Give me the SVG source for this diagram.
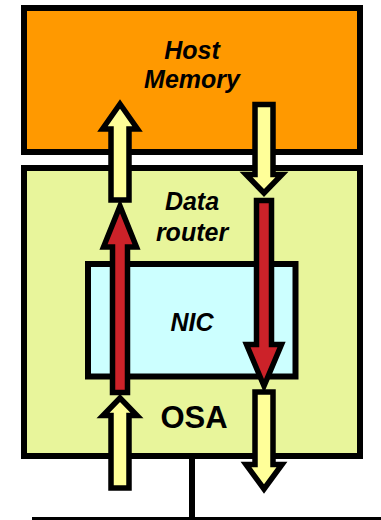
<svg xmlns="http://www.w3.org/2000/svg" width="381" height="520" viewBox="0 0 381 520">
<style>
.box{stroke:#000;stroke-width:6}
.lbl{font-family:"Liberation Sans",Arial,sans-serif;font-weight:bold;font-style:italic;font-size:25px;fill:#000;text-anchor:middle}
.osa{font-family:"Liberation Sans",Arial,sans-serif;font-weight:bold;font-size:31px;fill:#000;text-anchor:middle}
.ya{fill:#ffff99;stroke:#000;stroke-width:5.5;stroke-linejoin:miter;stroke-miterlimit:10}
.ra{fill:#cc2229;stroke:#000;stroke-width:5.5;stroke-linejoin:miter;stroke-miterlimit:10}
.wire{stroke:#000;stroke-width:6;fill:none}
</style>
<rect width="381" height="520" fill="#fff"/>
<g id="host-memory">
<rect class="box" x="24" y="8" width="336" height="144" fill="#ff9900"/>
<text class="lbl" x="192" y="59">Host</text>
<text class="lbl" x="192" y="88">Memory</text>
</g>
<g id="osa">
<rect class="box" x="24" y="168" width="336" height="288" fill="#e8f59b"/>
<text class="lbl" x="192" y="210">Data</text>
<text class="lbl" x="192" y="241">router</text>
<text class="osa" x="194" y="428">OSA</text>
</g>
<g id="nic">
<rect class="box" x="88" y="264" width="207.5" height="112.5" fill="#ccffff"/>
<text class="lbl" x="192" y="331">NIC</text>
</g>
<g id="connectors">
<line class="wire" x1="192" y1="456" x2="192" y2="519"/>
<line class="wire" x1="32" y1="520" x2="381" y2="520"/>
<polygon class="ya" points="120,104 137.5,129 129,129 129,200 111,200 111,129 102.5,129"/>
<polygon class="ra" points="120,206 136.5,247 127.5,247 127.5,392.5 112.5,392.5 112.5,247 103.5,247"/>
<polygon class="ya" points="120,398 137,415.5 129,415.5 129,488 111,488 111,415.5 103,415.5"/>
<polygon class="ya" points="255,104.5 273,104.5 273,174.5 282,174.5 264,193 246,174.5 255,174.5"/>
<polygon class="ra" points="256.5,200.5 271.5,200.5 271.5,344.5 281.5,344.5 264,386 246.5,344.5 256.5,344.5"/>
<polygon class="ya" points="255,392 273,392 273,464.5 282,464.5 264,489 246,464.5 255,464.5"/>
</g>
</svg>
